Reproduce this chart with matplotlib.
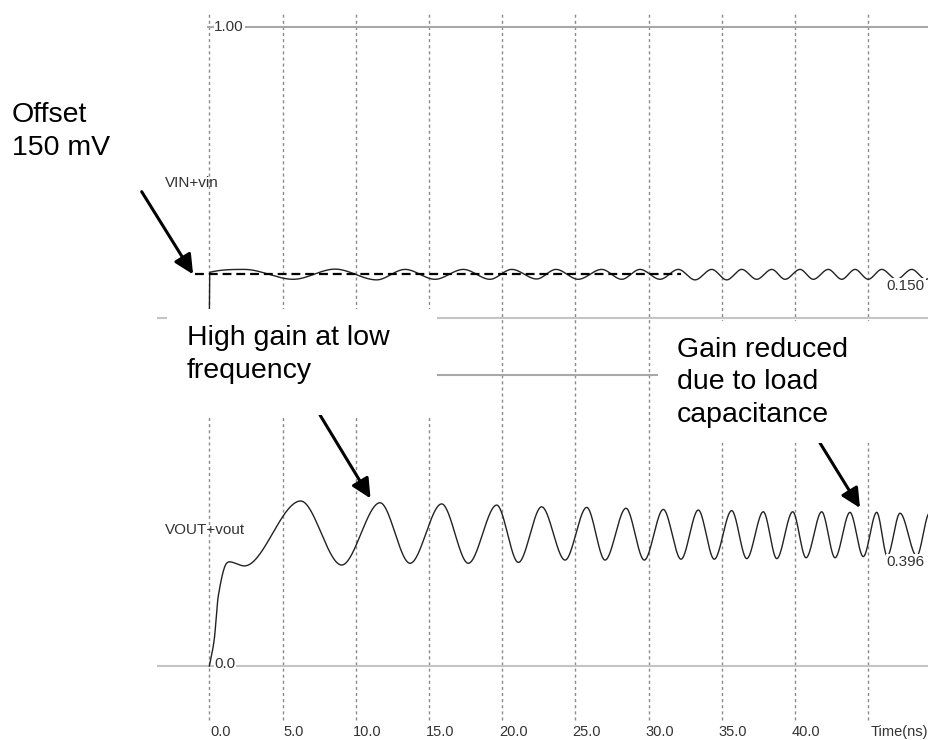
import numpy as np
import matplotlib
matplotlib.use("Agg")
import matplotlib.pyplot as plt
from matplotlib.patches import Rectangle
from matplotlib.transforms import offset_copy, blended_transform_factory

plt.rcParams['font.family'] = ['Liberation Sans', 'DejaVu Sans']

# ---- time axis (ns) ----
tick_times = [0, 5, 10, 15, 20, 25, 30, 35, 40]
tick_labels = ["0.0", "5.0", "10.0", "15.0", "20.0", "25.0", "30.0", "35.0", "40.0"]
unit_time = 45
unit_label = "Time(ns)"

# ---- VIN+vin : step to the offset, then a chirped ripple (extrema, V) ----
vin_t = [0.0, 0.03, 2.4, 5.74, 8.59, 11.43, 13.37, 15.42, 17.35, 19.17, 20.66,
         22.36, 23.68, 25.20, 26.80, 28.17, 29.42, 30.79, 32.04, 33.18, 34.32,
         35.34, 36.37, 37.39, 38.42, 39.33, 40.35, 41.26, 42.28, 43.20, 44.11,
         45.01, 45.93, 46.95, 47.98, 48.95, 49.90]
vin_v = [0.0, 0.157, 0.167, 0.133, 0.168, 0.131, 0.167, 0.133, 0.167, 0.133, 0.167,
         0.134, 0.167, 0.133, 0.167, 0.133, 0.167, 0.133, 0.167, 0.131, 0.167,
         0.131, 0.167, 0.133, 0.167, 0.133, 0.167, 0.133, 0.167, 0.133, 0.167,
         0.133, 0.167, 0.133, 0.167, 0.133, 0.167]

# ---- VOUT+vout : amplifier output (V) ----
vout_t = [0.0, 0.33, 0.6, 1.2, 1.35, 2.4, 6.24, 9.04, 11.66, 13.71, 15.87, 17.69,
          19.63, 21.11, 22.70, 24.30, 25.78, 27.03, 28.46, 29.71, 31.01, 32.22,
          33.40, 34.49, 35.68, 36.71, 37.84, 38.76, 39.85, 40.76, 41.83, 42.74,
          43.76, 44.67, 45.59, 46.31, 47.18, 48.32, 49.20]
vout_v = [0.0, 0.089, 0.237, 0.354, 0.358, 0.344, 0.567, 0.347, 0.561, 0.353, 0.557,
          0.353, 0.553, 0.356, 0.547, 0.364, 0.545, 0.364, 0.542, 0.364, 0.538,
          0.367, 0.536, 0.367, 0.534, 0.369, 0.530, 0.369, 0.530, 0.372, 0.530,
          0.372, 0.528, 0.376, 0.528, 0.378, 0.525, 0.378, 0.526]

offset_v = 0.150          # input offset, 150 mV
offset_span = [-0.98, 32.2]
vin_end_label = "0.150"
vout_end_label = "0.396"

W, H = 929, 740
XLIM = (-14.30, 49.16)


def smooth_line(x, y, n=4000):
    """Monotone cubic (Fritsch-Carlson) curve through the listed points."""
    x = np.asarray(x, float)
    y = np.asarray(y, float)
    h = np.diff(x)
    d = np.diff(y) / h
    m = np.zeros_like(y)
    m[0] = d[0]
    for k in range(1, len(x) - 1):
        if d[k - 1] * d[k] > 0:
            w1 = 2 * h[k] + h[k - 1]
            w2 = h[k] + 2 * h[k - 1]
            m[k] = (w1 + w2) / (w1 / d[k - 1] + w2 / d[k])
    xs = np.linspace(x[0], x[-1], n)
    i = np.clip(np.searchsorted(x, xs) - 1, 0, len(x) - 2)
    s = (xs - x[i]) / h[i]
    h00 = 2 * s**3 - 3 * s**2 + 1
    h10 = s**3 - 2 * s**2 + s
    h01 = -2 * s**3 + 3 * s**2
    h11 = s**3 - s**2
    ys = h00 * y[i] + h10 * h[i] * m[i] + h01 * y[i + 1] + h11 * h[i] * m[i + 1]
    return xs, ys


fig = plt.figure(figsize=(W / 100, H / 100), dpi=100)
fig.patch.set_facecolor('white')

# background layer: dotted time grid and time labels
ax_bg = fig.add_axes([0, 0, 1, 1])
ax_bg.set_xlim(XLIM)
ax_bg.set_ylim(0, 1)
ax_bg.axis('off')
for t in tick_times + [unit_time]:
    ax_bg.axvline(t, ymin=20 / H, ymax=728 / H, color='#8a8a8a', lw=1.0,
                  linestyle=(0, (2.2, 2.2)))
lab_tr = offset_copy(blended_transform_factory(ax_bg.transData, ax_bg.transAxes),
                     fig=fig, x=11.5, y=0, units='dots')
for t, lab in zip(tick_times, tick_labels):
    ax_bg.text(t, (H - 732) / H, lab, transform=lab_tr, ha='center', va='center',
               fontsize=10.5, color='#333333')
unit_tr = offset_copy(blended_transform_factory(ax_bg.transData, ax_bg.transAxes),
                      fig=fig, x=3, y=0, units='dots')
ax_bg.text(unit_time, (H - 732) / H, unit_label, transform=unit_tr, ha='left',
           va='center', fontsize=10.5, color='#333333')

# upper trace: VIN+vin
ax_in = fig.add_axes([0, (H - 318) / H, 1, 318 / H])
ax_in.set_xlim(XLIM)
ax_in.set_ylim(0, 1 + 27 / 291)
ax_in.axis('off')
ax_in.patch.set_visible(False)

# lower trace: VOUT+vout
ax_out = fig.add_axes([0, 0, 1, (H - 318) / H])
ax_out.set_xlim(XLIM)
lo = -74 / 291
ax_out.set_ylim(lo, lo + 422 / 291)
ax_out.axis('off')
ax_out.patch.set_visible(False)

lt_in = offset_copy(ax_in.transData, fig=fig, x=5, y=0, units='dots')
lt_out = offset_copy(ax_out.transData, fig=fig, x=5, y=2, units='dots')
for ax in (ax_in, ax_out):
    ax.hlines(1.0, -0.15, XLIM[1], color='#a8a8a8', lw=1.5, clip_on=False)
    ax.hlines(0.0, -3.55, XLIM[1], color='#c4c4c4', lw=1.5, clip_on=False)
ax_in.text(0, 1.0, "1.00", transform=lt_in, ha='left', va='center', fontsize=11,
           color='#333333', bbox=dict(fc='white', ec='none', pad=0.5))
ax_out.text(0, 0.0, "0.0", transform=lt_out, ha='left', va='center', fontsize=11,
            color='#333333', bbox=dict(fc='white', ec='none', pad=0.5))

xs, ys = smooth_line(vin_t, vin_v)
ax_in.plot(xs, ys, color='#222222', lw=1.0)
ax_in.plot(offset_span, [offset_v, offset_v], color='black', lw=1.6,
           linestyle=(0, (4, 2.2)))
ax_in.text(-3.02, 0.464, "VIN+vin", ha='left', va='center', fontsize=11,
           color='#333333')
ax_in.text(46.28, 0.111, vin_end_label, ha='left', va='center', fontsize=11,
           color='#333333', bbox=dict(fc='white', ec='none', pad=0.8))

xs, ys = smooth_line(vout_t, vout_v)
ax_out.plot(xs, ys, color='#222222', lw=1.0)
ax_out.text(-3.02, 0.467, "VOUT+vout", ha='left', va='center', fontsize=11,
            color='#333333')
ax_out.text(46.28, 0.358, vout_end_label, ha='left', va='center', fontsize=11,
            color='#333333', bbox=dict(fc='white', ec='none', pad=0.8))

# callouts
arrow = dict(arrowstyle='-|>,head_length=0.45,head_width=0.22', mutation_scale=26,
             lw=2.2, color='black', shrinkA=0, shrinkB=0)
ax_in.annotate("", xy=(-1.11, offset_v), xytext=(141.7, H - 191.7),
               textcoords='figure pixels', arrowprops=arrow)
ax_out.annotate("", xy=(11.01, 0.576), xytext=(320, H - 415),
                textcoords='figure pixels', arrowprops=arrow)
ax_out.annotate("", xy=(44.45, 0.543), xytext=(820, H - 443),
                textcoords='figure pixels', arrowprops=arrow)


def box(x0, y0, x1, y1):
    fig.add_artist(Rectangle((x0 / W, (H - y1) / H), (x1 - x0) / W, (y1 - y0) / H,
                             transform=fig.transFigure, fc='white', ec='none',
                             zorder=5))


box(167, 309, 437, 415)
box(658, 321, 929, 443)

# multi-line notes are anchored on the baseline of their last line
note = dict(fontsize=20.5, color='black', ha='left', va='baseline',
            linespacing=1.33, zorder=6)
fig.text(12 / W, (H - 155) / H, "Offset\n150 mV", **note)
fig.text(187 / W, (H - 378) / H, "High gain at low\nfrequency", **note)
fig.text(677 / W, (H - 422) / H, "Gain reduced\ndue to load\ncapacitance", **note)

fig.savefig("out.png", dpi=100)
